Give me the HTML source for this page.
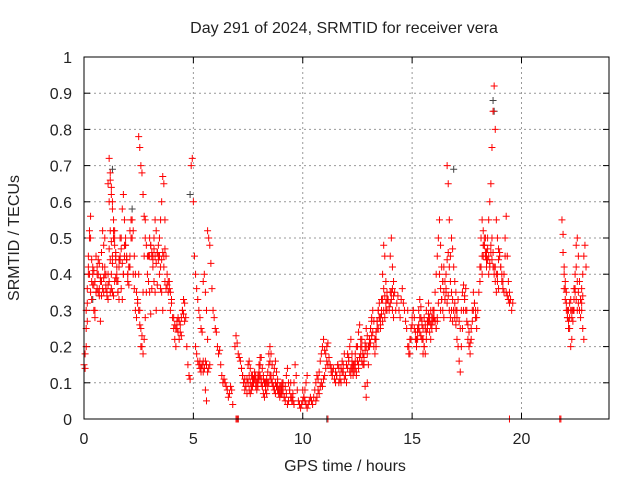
<!DOCTYPE html>
<html><head><meta charset="utf-8"><style>
body{margin:0;background:#fff}
svg{display:block;font-family:"Liberation Sans",sans-serif}
</style></head><body>
<svg id="chart" width="640" height="480" viewBox="0 0 640 480">
<rect width="640" height="480" fill="#fff"/>
<text x="344" y="33" font-size="16" text-anchor="middle" fill="#222">Day 291 of 2024, SRMTID for receiver vera</text>
<text transform="translate(19,238) rotate(-90)" font-size="16" text-anchor="middle" fill="#222">SRMTID / TECUs</text>
<text x="345" y="471" font-size="16" text-anchor="middle" fill="#222">GPS time / hours</text>
<g id="grid"></g>
<g id="ticks"></g>
<g id="marks"></g>
<rect x="84" y="57" width="525" height="362" fill="none" stroke="#000" stroke-width="1"/>
</svg>
<script>
const xTicks=[0,5,10,15,20];
const yTicks=[0,0.1,0.2,0.3,0.4,0.5,0.6,0.7,0.8,0.9,1];
const yTickLabels=["0","0.1","0.2","0.3","0.4","0.5","0.6","0.7","0.8","0.9","1"];
const segStarts=[0,0.1,1.1,1.2,2.5,2.55,3.9,5.1,6.9,7.2,10.0,11.5,14.0,14.8,18.0,18.1,21.85,21.9,6.95,11.15,19.45,21.75,
 0.05,1.15,3.0,4.1,5.3,7.5,8.3,10.6,12.2,13.3,15.2,16.3,18.2,21.95];
const segValues=[
[0.15,0.14,0.2,0.27,0.45,0.5,0.56,0.38,0.42,0.3,0.28,0.35,0.4,0.44,0.36,0.27,0.38,0.42,0.35,0.5,0.4,0.34,0.37,0.47,0.52,0.36,0.43,0.34,0.38,0.39],
[0.25,0.32,0.4,0.52,0.5,0.44,0.4,0.37,0.3,0.45,0.42,0.35,0.34,0.39,0.46,0.52,0.48,0.4,0.36,0.35,0.33,0.38,0.44,0.49,0.35],
[0.65,0.72,0.68,0.62,0.6,0.55,0.5,0.45,0.42,0.35,0.33,0.45,0.5,0.58,0.62,0.55,0.48,0.44,0.4,0.42,0.45,0.5,0.55,0.52,0.45,0.4,0.35,0.32,0.3,0.26,0.2,0.23,0.35,0.45,0.55],
[0.35,0.4,0.45,0.5,0.52,0.46,0.38,0.35,0.42,0.44,0.36,0.33,0.4,0.48,0.5,0.45,0.38,0.42,0.52,0.55,0.5,0.4,0.36,0.3,0.28,0.33,0.4],
[0.78,0.75,0.7,0.68,0.62,0.56,0.5,0.48,0.45,0.38,0.35,0.29,0.36,0.45,0.5,0.55,0.52,0.46,0.44,0.4,0.36,0.35,0.3,0.45,0.47],
[0.3,0.25,0.2,0.18,0.22,0.28,0.35,0.4,0.45,0.5,0.48,0.45,0.42,0.38,0.35,0.3,0.37,0.45,0.5,0.55,0.6,0.67,0.65,0.55,0.45,0.4,0.38,0.36,0.3,0.33],
[0.38,0.35,0.32,0.28,0.25,0.22,0.2,0.25,0.28,0.27,0.24,0.23,0.3,0.33,0.32,0.28,0.2,0.15,0.12,0.11,0.7,0.72,0.6,0.45,0.4,0.36,0.33,0.3,0.28,0.25,0.24,0.38,0.4,0.35,0.3,0.22],
[0.2,0.18,0.16,0.15,0.14,0.13,0.15,0.16,0.14,0.08,0.05,0.52,0.5,0.48,0.43,0.36,0.3,0.28,0.25,0.24,0.2,0.18,0.19,0.15,0.12,0.1,0.11,0.1,0.09,0.08,0.06,0.07,0.09,0.08,0.04],
[0.2,0.23,0.21,0.18,0.17,0.16,0.14,0.12,0.1,0.11,0.09,0.07,0.1,0.12,0.1,0.08,0.09,0.11,0.13,0.12,0.1,0.11,0.13,0.15,0.17,0.14,0.12,0.1,0.08,0.07,0.1,0.15,0.2,0.18,0.15,0.12,0.14,0.16,0.13,0.1,0.08,0.07,0.09,0.1,0.08,0.06,0.09,0.12,0.14,0.1,0.08,0.06,0.05,0.07,0.1,0.15,0.12,0.08,0.05,0.04,0.03,0.04,0.05,0.06,0.08,0.1,0.12],
[0.14,0.12,0.1,0.08,0.09,0.11,0.1,0.08,0.07,0.09,0.12,0.1,0.11,0.09,0.08,0.12,0.15,0.17,0.11,0.09,0.07,0.06,0.08,0.1,0.13,0.18,0.16,0.12,0.1,0.09,0.08,0.07,0.09,0.11,0.08,0.06,0.07,0.09,0.1,0.06,0.05,0.07,0.04,0.05,0.08,0.1,0.06,0.05,0.04],
[0.08,0.06,0.05,0.04,0.03,0.04,0.05,0.06,0.05,0.04,0.06,0.08,0.1,0.12,0.11,0.13,0.16,0.18,0.2,0.22,0.19,0.18,0.2,0.21,0.17,0.15,0.13,0.12,0.14,0.11,0.1,0.12,0.15,0.14,0.11,0.1,0.13,0.15,0.18,0.12,0.1,0.14,0.16,0.2,0.22,0.18,0.15,0.13,0.16,0.12,0.2,0.24,0.26,0.22,0.2,0.18,0.15,0.09,0.06,0.1,0.15,0.2,0.25,0.28,0.3,0.27,0.22,0.2,0.25,0.3,0.32,0.28,0.33,0.4,0.48,0.45,0.38,0.35,0.33,0.3,0.32,0.35,0.3,0.28],
[0.13,0.12,0.15,0.1,0.12,0.14,0.16,0.13,0.11,0.12,0.15,0.18,0.17,0.13,0.14,0.16,0.12,0.15,0.18,0.2,0.16,0.14,0.17,0.2,0.22,0.18,0.16,0.21,0.25,0.23,0.2,0.22,0.25,0.27,0.24,0.2,0.18,0.22,0.27,0.3,0.28,0.25,0.3,0.33,0.36,0.34,0.3,0.33],
[0.45,0.5,0.42,0.38,0.35,0.3,0.32,0.34,0.3,0.28,0.33,0.36,0.32,0.3,0.27,0.25,0.2,0.18,0.22,0.25,0.28,0.3,0.25,0.22,0.2,0.25,0.3,0.33,0.28,0.22,0.18,0.2,0.25,0.3,0.27,0.32,0.28,0.3,0.25,0.27,0.3,0.35,0.4,0.45,0.5,0.55,0.48,0.42,0.38,0.35,0.33,0.36,0.7,0.65,0.55,0.45,0.5,0.47,0.42,0.38,0.35,0.3,0.33,0.27,0.25,0.3,0.35,0.37,0.33,0.3,0.27,0.22,0.2,0.18,0.25,0.3,0.35,0.32,0.28,0.25],
[0.3,0.2,0.18,0.22,0.26,0.3,0.28,0.24,0.2,0.22,0.25,0.28,0.31,0.26,0.22,0.2,0.18,0.22,0.25,0.27,0.24,0.22,0.26,0.28,0.3,0.27,0.25,0.28,0.32,0.4,0.36,0.33,0.3,0.28,0.33,0.4,0.44,0.46,0.42,0.38,0.35,0.33,0.3,0.28,0.26,0.22,0.2,0.16,0.13,0.2,0.25,0.3,0.34,0.36,0.3,0.26,0.24,0.21,0.22,0.27,0.3,0.32,0.3,0.28],
[0.3,0.35,0.42,0.5,0.55,0.52,0.48,0.45,0.42,0.5,0.55,0.6,0.65,0.75,0.85,0.92,0.8,0.55,0.5,0.47,0.45,0.42,0.4,0.38,0.35,0.5,0.56,0.45,0.38,0.35,0.33,0.3,0.32],
[0.38,0.42,0.4,0.45,0.48,0.5,0.46,0.44,0.4,0.42,0.48,0.5,0.46,0.42,0.38,0.35,0.4,0.44,0.46,0.42,0.38,0.36,0.4,0.45,0.35,0.34,0.33,0.32],
[0.55,0.51,0.42,0.38,0.35,0.3,0.27,0.25,0.2,0.22,0.3,0.36,0.4,0.48,0.5,0.45,0.38,0.33,0.3,0.25,0.22],
[0.46,0.4,0.36,0.32,0.28,0.25,0.28,0.33,0.3,0.27,0.3,0.35,0.42,0.38,0.35,0.3,0.28,0.32,0.4,0.45,0.48,0.42],
[0,0,0],[0],[0],[0,0],
[0.18,0.3,0.36,0.42,0.4,0.35,0.33,0.37,0.41,0.38,0.35,0.36,0.4,0.43,0.38,0.34,0.36,0.39,0.42,0.37,0.35,0.4],
[0.6,0.66,0.64,0.58,0.52,0.48,0.44,0.4,0.38,0.44,0.5,0.47,0.43,0.4,0.45,0.48,0.44,0.4,0.37,0.42],
[0.45,0.48,0.46,0.44,0.47,0.45,0.43,0.46,0.48,0.45,0.42,0.44,0.46,0.42,0.38,0.36,0.37,0.35],
[0.28,0.26,0.25,0.27,0.24,0.22,0.26,0.28,0.3,0.29,0.27],
[0.16,0.14,0.15,0.13,0.14,0.16,0.15,0.13,0.14,0.15],
[0.15,0.16,0.14,0.12,0.11,0.1,0.12,0.11,0.1,0.09,0.11,0.12,0.1,0.09,0.11,0.1],
[0.1,0.11,0.09,0.1,0.12,0.11,0.1,0.09,0.08,0.1,0.09,0.08,0.07,0.09,0.08,0.07],
[0.05,0.06,0.08,0.07,0.09,0.1,0.09,0.11,0.12,0.14,0.16,0.15,0.17,0.15,0.14,0.13],
[0.12,0.14,0.13,0.15,0.14,0.13,0.16,0.15,0.17,0.18,0.16,0.15,0.17,0.19,0.2,0.18,0.2,0.22,0.21,0.23],
[0.22,0.24,0.27,0.25,0.28,0.26,0.29,0.27,0.3,0.28,0.32,0.3,0.33,0.31,0.35,0.33,0.36,0.34],
[0.22,0.24,0.26,0.24,0.23,0.27,0.25,0.28,0.26,0.24,0.27,0.29,0.27,0.26,0.28,0.3,0.28,0.27,0.25,0.27],
[0.3,0.33,0.38,0.42,0.38,0.35,0.32,0.34,0.3,0.28,0.3,0.27,0.3,0.32,0.3,0.28],
[0.45,0.48,0.5,0.46,0.44,0.47,0.45,0.43,0.46,0.44,0.42,0.4,0.42,0.4,0.38,0.36],
[0.36,0.33,0.3,0.28,0.3,0.32,0.3,0.28,0.3,0.33,0.36,0.33,0.3,0.32,0.3,0.33,0.36,0.34]
];
const segStep=0.05;
const greyTimes=[1.3,4.85,18.7,18.75,16.9,7.05,11.1,0.4,2.2];
const greyValues=[0.69,0.62,0.88,0.85,0.69,0,0,0.33,0.58];
const NS="http://www.w3.org/2000/svg";
const X0=84,X1=609,Y0=419,Y1=57,XMAX=24;
function xs(t){return X0+(X1-X0)*t/XMAX;}
function ys(v){return Y0-(Y0-Y1)*v;}
function el(tag,attrs,parent){const e=document.createElementNS(NS,tag);for(const k in attrs)e.setAttribute(k,attrs[k]);parent.appendChild(e);return e;}
const grid=document.getElementById('grid'),ticks=document.getElementById('ticks'),marks=document.getElementById('marks');
yTicks.forEach((v,i)=>{const y=ys(v);
 if(i>0&&i<yTicks.length-1){const g=el('line',{x1:X0,x2:X1,y1:y,y2:y,stroke:'#999','stroke-dasharray':'2,3'},grid);
 
 }
 el('line',{x1:X0,x2:X0+6,y1:y,y2:y,stroke:'#000'},ticks);
 el('line',{x1:X1-6,x2:X1,y1:y,y2:y,stroke:'#000'},ticks);
 const t=el('text',{x:X0-12,y:y+6,'font-size':16,'text-anchor':'end',fill:'#222'},ticks);t.textContent=yTickLabels[i];
 
 
});
xTicks.forEach(v=>{const x=xs(v);
 if(v>0){const g=el('line',{x1:x,x2:x,y1:Y1,y2:Y0,stroke:'#999','stroke-dasharray':'2,3'},grid);
 
 }
 el('line',{x1:x,x2:x,y1:Y0-6,y2:Y0,stroke:'#000'},ticks);
 el('line',{x1:x,x2:x,y1:Y1,y2:Y1+6,stroke:'#000'},ticks);
 const t=el('text',{x:x,y:444,'font-size':16,'text-anchor':'middle',fill:'#222'},ticks);t.textContent=String(v);
 
 
});
function plus(t,v,color){const x=xs(t),y=ys(v);
 const p=el('path',{d:`M${x-3.5},${y}H${x+3.5}M${x},${y-3.5}V${y+3.5}`,stroke:color,'stroke-width':1,fill:'none'},marks);
 
 
}
greyTimes.forEach((t,i)=>plus(t,greyValues[i],'#444'));
segValues.forEach((arr,s)=>arr.forEach((v,i)=>plus(segStarts[s]+i*segStep,v,'#ff0000')));
</script>
</body></html>
